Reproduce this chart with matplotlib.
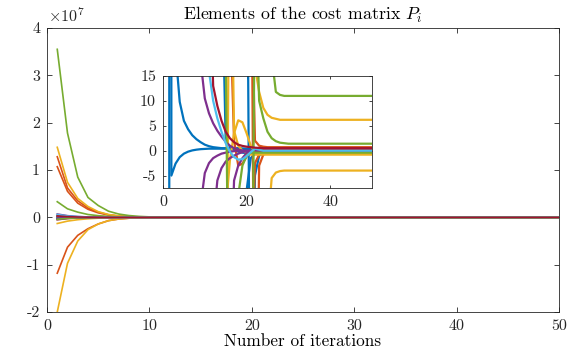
import numpy as np
import matplotlib
matplotlib.use("Agg")
import matplotlib.pyplot as plt

plt.rcParams["font.family"] = "cmr10"
plt.rcParams["mathtext.fontset"] = "cm"
plt.rcParams["axes.formatter.use_mathtext"] = True

# values of each cost matrix element, iterations 1..50
blue_1 = [2e5, -5.0, -2.6, -1.3, -0.6, -0.2, 0.05, 0.2, 0.3, 0.35, 0.4, 0.4, 0.4,
          0.4, 0.4, 0.4, 0.4, 0.35, 0.3, 0.2, 0.1] + [0.0] * 29
blue_2 = [-2e5, 2e5, 20.0, 9.8, 6.0, 4.3, 3.1, 2.3, 1.7, 1.2, 0.9, 0.7, 0.6, 0.5,
          0.5, 0.5, 0.5, 0.5, 0.45, 0.4, 0.3, 0.2] + [0.1] * 28
blue_3 = [3e5, 1.5e5, 8e4, 4e4, 2e4, 1e4, 5e3, 2.5e3, 1.2e3, 800, 500, 300, 150,
          40, 2.0, 0.6, 0.2, -0.2, -0.4, -0.5, -0.4, -0.2] + [-0.1] * 28
blue_4 = [1e5, 5e4, 2.5e4, 1.2e4, 6e3, 3e3, 1.5e3, 800, 500, 350, 250, 200, 160,
          130, 110, 95, 85, 75, 65, 60, -60, -5.0, -1.0, -0.5] + [-0.3] * 26
blue_5 = [-1.5e5, -7e4, -3.5e4, -1.7e4, -8e3, -4e3, -2e3, -1e3, -600, -400, -300,
          -250, -200, -170, -150, -130, -110, -90, -60, -8.0, -1.5, -0.6,
          -0.3] + [-0.2] * 27
orange_1 = [1.28e7, 6.2e6, 3.5e6, 2.0e6, 1.1e6, 5.5e5, 2.8e5, 1.4e5, 7e4, 3.5e4,
            1.8e4, 9e3, 4.5e3, 2.3e3, 1.2e3, 650, 400, 250, 160, 100, 40, 2.0,
            1.0, 0.8] + [0.7] * 26
orange_2 = [1.07e7, 5.5e6, 3.0e6, 1.7e6, 9.5e5, 5e5, 2.5e5, 1.2e5, 6e4, 3e4,
            1.5e4, 7e3, 3.5e3, 1.7e3, 300, 30, 2.0, -3.0, -2.6, -1.2, -0.3,
            0.2] + [0.3] * 28
orange_3 = [-1.18e7, -6.3e6, -3.8e6, -2.4e6, -1.4e6, -7e5, -3.5e5, -1.8e5, -9e4,
            -4.5e4, -2.3e4, -1.2e4, -6e3, -3e3, -1.5e3, -800, -450, -300, -250,
            -200, -30, -2.5, -0.8] + [-0.5] * 27
orange_4 = [2e5, 1e5, 5e4, 2.5e4, 1.2e4, 6e3, 3e3, 1.5e3, 800, 500, 350, 250,
            200, 160, 130, 110, 95, 85, 75, 65, 60, -60, -3.0, -0.8] + [-0.4] * 26
yellow_1 = [1.48e7, 7.4e6, 4.0e6, 2.3e6, 1.2e6, 6e5, 3e5, 1.5e5, 8e4, 4e4, 2e4,
            1e4, 5e3, 2.5e3, 1.3e3, 700, 400, 220, 130, 80, 40, 17, 11.8, 8.6,
            7.2, 6.6, 6.4] + [6.2] * 23
yellow_2 = [-2.0e7, -9.7e6, -5.0e6, -2.6e6, -1.4e6, -7e5, -3.5e5, -1.8e5, -9e4,
            -4.5e4, -2.3e4, -1.2e4, -6e3, -3e3, -1.6e3, -900, -500, -300, -200,
            -140, -100, -70, -50, -40, -16, -5.5, -4.4, -4.1] + [-4.0] * 22
yellow_3 = [-5e5, -2.5e5, -1.2e5, -6e4, -3e4, -1.5e4, -7e3, -3.5e3, -1.7e3, -800,
            -400, -200, -100, -40, -12, -2.0, 3.5, 6.1, 5.7, 3.5, 1.0, -0.4,
            -0.7] + [-0.6] * 27
yellow_4 = [-1.3e6, -8e5, -5e5, -3e5, -1.8e5, -1e5, -6e4, -3.5e4, -2e4, -1.1e4,
            -6e3, -3e3, -1.5e3, -700, -60, 60, 4.0, 1.0, 0.0, -0.5] + [-0.8] * 30
purple_1 = [7e5, 3.5e5, 1.7e5, 8e4, 4e4, 2e4, 8e3, 40, 18, 10.5, 7.5, 5.5, 4.0,
            2.8, 1.8, 1.0, 0.5, 0.2, 0.0, -0.1] + [-0.2] * 30
purple_2 = [-5e5, -2.5e5, -1.2e5, -6e4, -3e4, -1.5e4, -6e3, -40, -11, -4.5, -2.5,
            -1.5, -1.0, -0.6, -0.4, -0.2, -0.1] + [0.0] * 33
purple_3 = [-3e5, -1.5e5, -7e4, -3.5e4, -1.7e4, -8e3, -4e3, -2e3, -1e3, -500,
            -60, -15, -6.0, -3.5, -2.2, -1.5, -1.0, -0.6, -0.3] + [-0.1] * 31
purple_4 = [-2e5, -1e5, -5e4, -2.5e4, -1.2e4, -6e3, -3e3, -1.5e3, -800, -400,
            -250, -150, -100, -70, -50, -30, -6.0, -3.0, -1.5, -0.5] + [-0.2] * 30
green_1 = [3.55e7, 1.78e7, 8.5e6, 4.2e6, 2.5e6, 1.3e6, 7e5, 3.8e5, 2e5, 1e5, 6e4,
           3.5e4, 2e4, 1.2e4, 7e3, 4.2e3, 2.6e3, 1.8e3, 1.3e3, 900, 450, 220,
           110, 55, 30, 19, 11.8, 11.2] + [11.0] * 22
green_2 = [-4e5, -2e5, -1e5, -5e4, -2.5e4, -1.2e4, -6e3, -3e3, -1.5e3, -900,
           -700, -600, -500, -450, -400, -380, -360, -340, -320, -300, -80, 40,
           10, 6.5, 3.8, 2.5, 1.9, 1.6, 1.5] + [1.4] * 21
green_3 = [3.3e6, 1.8e6, 1.1e6, 6e5, 3.5e5, 2e5, 1.1e5, 6e4, 3e4, 1.5e4, 7e3,
           3e3, 1.2e3, 300, 20, -60, -25, -9, -3, -1] + [-0.4] * 30
light_blue_1 = [6e5, 3e5, 1.5e5, 7e4, 3.5e4, 1.7e4, 8e3, 4e3, 2e3, 30, 16, 10,
                6.5, 3.8, 1.5, -0.2, -1.3, -1.8, -1.7, -1.1, -0.3, 0.4,
                0.2] + [0.0] * 27
dark_red_1 = [3e5, 1.5e5, 7e4, 3.5e4, 1.7e4, 8e3, 4e3, 2e3, 1e3, 500, 40, 13,
              9.0, 6.0, 3.8, 2.5, 1.7, 1.2, 0.95, 0.8, 0.7, 0.6,
              0.55] + [0.5] * 27

series = [blue_1, blue_2, blue_3, blue_4, blue_5,
          orange_1, orange_2, orange_3, orange_4,
          yellow_1, yellow_2, yellow_3, yellow_4,
          purple_1, purple_2, purple_3, purple_4,
          green_1, green_2, green_3, light_blue_1, dark_red_1]
colors = (["#0072BD"] * 5 + ["#D95319"] * 4 + ["#EDB120"] * 4 + ["#7E2F8E"] * 4
          + ["#77AC30"] * 3 + ["#4DBEEE", "#A2142F"])
for s in series:
    assert len(s) == 50, len(s)
iterations = np.arange(1, 51)

main_yticks = [-2e7, -1e7, 0, 1e7, 2e7, 3e7, 4e7]
main_ylabels = ["-2", "-1", "0", "1", "2", "3", "4"]
inset_yticks = [-5, 0, 5, 10, 15]
inset_ylabels = ["-5", "0", "5", "10", "15"]

axis_color = "#262626"
fig = plt.figure(figsize=(5.77, 3.6), dpi=100)
ax = fig.add_axes([0.0815, 0.1333, 0.8873, 0.7889])
ins = fig.add_axes([0.2825, 0.4778, 0.3622, 0.3111])

for s, c in zip(series, colors):
    ax.plot(iterations, s, color=c, lw=1.2)
    ins.plot(iterations, s, color=c, lw=1.6)

ax.set_xlim(0, 50)
ax.set_ylim(-2e7, 4e7)
ax.set_xticks([0, 10, 20, 30, 40, 50])
ax.set_xticklabels(["0", "10", "20", "30", "40", "50"])
ax.set_yticks(main_yticks)
ax.set_yticklabels(main_ylabels)
ax.text(0.002, 1.012, r"$\times10^{7}$", transform=ax.transAxes,
        ha="left", va="bottom", fontsize=11.5, color=axis_color)
ax.set_title("Elements of the cost matrix $P_i$", fontsize=12.8, pad=6,
             color="black")
ax.set_xlabel("Number of iterations", fontsize=12.4, labelpad=1)

ins.set_xlim(0, 50)
ins.set_ylim(-7.5, 15)
ins.set_xticks([0, 20, 40])
ins.set_xticklabels(["0", "20", "40"])
ins.set_yticks(inset_yticks)
ins.set_yticklabels(inset_ylabels)

for a, tl in ((ax, 3.5), (ins, 2.5)):
    a.tick_params(direction="in", top=True, right=True, length=tl, width=0.6,
                  colors=axis_color, labelsize=11.5, pad=5)
    for sp in a.spines.values():
        sp.set_color(axis_color)
        sp.set_linewidth(0.6)

fig.savefig("out.png", dpi=100)
